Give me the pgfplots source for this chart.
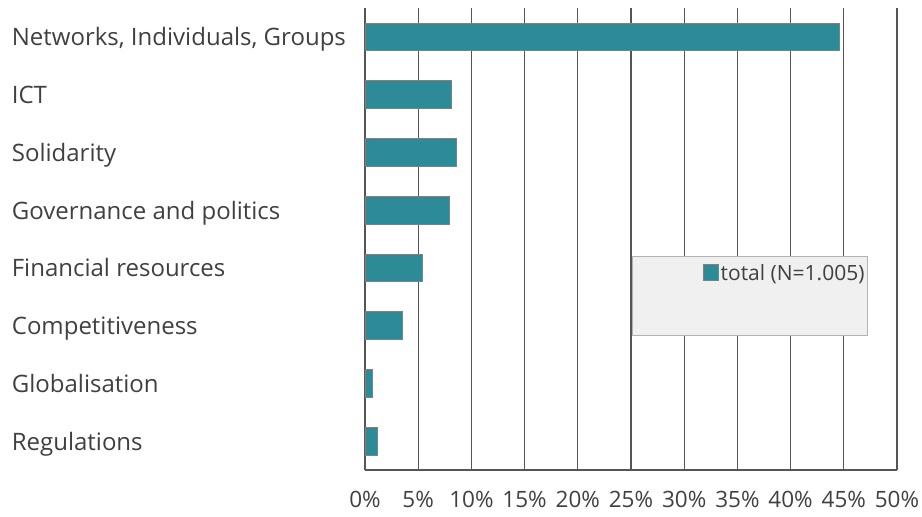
\documentclass[border=0pt]{standalone}
\usepackage{pgfplots}
\pgfplotsset{compat=1.18}
\usepackage{fontspec}
\setmainfont{Open Sans}
\definecolor{barcol}{RGB}{44,139,150}
\definecolor{txtcol}{RGB}{64,64,64}
\definecolor{gridcol}{RGB}{85,85,85}
\begin{document}
\fontsize{17pt}{20pt}\selectfont
\begin{tikzpicture}
\path (-365pt,-47pt) rectangle (557pt,470pt);
\begin{axis}[
  scale only axis,
  width=532pt, height=462pt,
  xbar, bar width=0.48,
  xmin=0, xmax=50, ymin=-0.5, ymax=7.5,
  axis line style={draw=gridcol, line width=1.2pt},
  axis x line*=bottom, axis y line*=left,
  xtick={0,5,...,50}, ytick={0,...,7},
  yticklabels={Regulations,Globalisation,Competitiveness,Financial resources,Governance and politics,Solidarity,ICT,{Networks, Individuals, Groups}},
  xticklabel={\pgfmathprintnumber{\tick}\%},
  /pgf/number format/assume math mode=true,
  yticklabel style={font=\fontsize{24pt}{28pt}\selectfont, text=txtcol, anchor=base west, xshift=-359pt, yshift=-9pt},
  xticklabel style={font=\fontsize{22.5pt}{26pt}\selectfont, text=txtcol, anchor=base, yshift=-37pt, inner xsep=0pt},
  major tick length=0pt,
  xmajorgrids, major grid style={draw=gridcol, line width=1.2pt},
  legend style={at={(rel axis cs:0.945,0.452)}, anchor=north east, draw=none, fill=none, font=\fontsize{21pt}{24pt}\selectfont, text=txtcol, inner sep=1pt},
  legend image code/.code={\draw[fill=barcol, draw=gray, line width=0.6pt] (0pt,-7pt) rectangle (15pt,9pt);},
]
\draw[fill=gray!12, draw=gray!60, line width=1pt] (rel axis cs:0.502,0.463) rectangle (rel axis cs:0.945,0.292);
\addplot[fill=barcol, draw=gray, line width=0.8pt] coordinates {
(1.15,0) (0.65,1) (3.55,2) (5.4,3) (7.95,4) (8.6,5) (8.1,6) (44.6,7)};
\addlegendentry{total (N=1.005)}
\end{axis}
\end{tikzpicture}
\end{document}
